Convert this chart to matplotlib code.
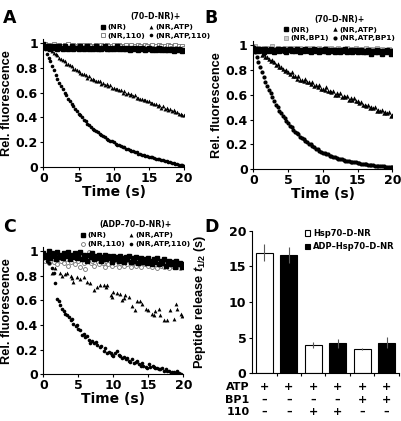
import numpy as np
import matplotlib
matplotlib.use("Agg")
import matplotlib.pyplot as plt

plt.rcParams['font.family'] = ['DejaVu Sans']
plt.rcParams['font.weight'] = 'bold'
plt.rcParams['axes.labelweight'] = 'bold'
plt.rcParams['axes.linewidth'] = 0.8
plt.rcParams['mathtext.fontset'] = 'custom'
plt.rcParams['mathtext.it'] = 'Liberation Sans:italic:bold'
plt.rcParams['mathtext.rm'] = 'Liberation Sans:bold'

# ---------------- data ----------------
# time grid of the stopped-flow traces (0.25 s steps)
t = np.linspace(0, 20, 81)

# panel A  (70-D-NR)+
A_NR = [0.99, 0.97, 0.96, 0.97, 0.95, 0.96, 0.97, 0.96,
        0.95, 0.97, 0.96, 0.95, 0.97, 0.96, 0.95, 0.96,
        0.97, 0.95, 0.96, 0.96, 0.95, 0.97, 0.96, 0.95,
        0.96, 0.97, 0.95, 0.96, 0.95, 0.96, 0.97, 0.95,
        0.96, 0.95, 0.96, 0.97, 0.95, 0.96, 0.95, 0.96,
        0.95, 0.96, 0.97, 0.95, 0.96, 0.95, 0.96, 0.95,
        0.96, 0.94, 0.95, 0.96, 0.95, 0.96, 0.94, 0.95,
        0.96, 0.95, 0.94, 0.95, 0.96, 0.95, 0.94, 0.95,
        0.94, 0.95, 0.96, 0.94, 0.95, 0.94, 0.95, 0.94,
        0.95, 0.94, 0.93, 0.95, 0.94, 0.95, 0.94, 0.93,
        0.94]
A_NR110 = [0.98, 0.99, 0.97, 0.98, 0.96, 0.97, 0.99, 0.97,
           0.96, 0.98, 0.97, 0.96, 0.98, 0.97, 0.99, 0.96,
           0.97, 0.98, 0.96, 0.97, 0.98, 0.96, 0.97, 0.98,
           0.97, 0.96, 0.98, 0.97, 0.96, 0.97, 0.98, 0.96,
           0.97, 0.98, 0.97, 0.96, 0.98, 0.97, 0.96, 0.97,
           0.98, 0.96, 0.97, 0.98, 0.97, 0.96, 0.97, 0.98,
           0.96, 0.97, 0.98, 0.96, 0.97, 0.96, 0.98, 0.97,
           0.96, 0.97, 0.98, 0.97, 0.96, 0.97, 0.98, 0.96,
           0.97, 0.96, 0.98, 0.97, 0.96, 0.97, 0.96, 0.98,
           0.97, 0.96, 0.97, 0.98, 0.96, 0.97, 0.96, 0.97,
           0.96]
A_ATP = [1.00, 0.98, 0.97, 0.95, 0.95, 0.93, 0.92, 0.91,
         0.90, 0.88, 0.87, 0.86, 0.85, 0.83, 0.83, 0.82,
         0.81, 0.79, 0.79, 0.78, 0.77, 0.76, 0.75, 0.75,
         0.74, 0.72, 0.73, 0.71, 0.71, 0.70, 0.69, 0.69,
         0.69, 0.67, 0.68, 0.66, 0.67, 0.65, 0.66, 0.64,
         0.64, 0.63, 0.63, 0.62, 0.62, 0.60, 0.61, 0.59,
         0.60, 0.58, 0.59, 0.57, 0.58, 0.56, 0.56, 0.55,
         0.55, 0.54, 0.54, 0.53, 0.53, 0.52, 0.52, 0.51,
         0.51, 0.49, 0.50, 0.48, 0.49, 0.47, 0.48, 0.46,
         0.47, 0.45, 0.46, 0.44, 0.44, 0.43, 0.43, 0.42,
         0.42]
A_ATP110 = [0.98, 0.95, 0.91, 0.88, 0.85, 0.81, 0.78, 0.74,
            0.71, 0.68, 0.65, 0.63, 0.60, 0.58, 0.55, 0.53,
            0.51, 0.49, 0.47, 0.45, 0.43, 0.42, 0.40, 0.38,
            0.37, 0.35, 0.34, 0.32, 0.31, 0.30, 0.29, 0.28,
            0.27, 0.26, 0.25, 0.24, 0.23, 0.22, 0.21, 0.21,
            0.20, 0.19, 0.18, 0.18, 0.17, 0.16, 0.16, 0.15,
            0.145, 0.14, 0.13, 0.13, 0.12, 0.12, 0.11, 0.11,
            0.10, 0.10, 0.09, 0.09, 0.085, 0.08, 0.08, 0.075,
            0.07, 0.07, 0.065, 0.06, 0.055, 0.05, 0.05, 0.045,
            0.04, 0.035, 0.035, 0.03, 0.025, 0.02, 0.02, 0.015,
            0.01]

# panel B  (70-D-NR)+ with BP1
B_NR = [0.98, 0.96, 0.97, 0.95, 0.97, 0.96, 0.94, 0.97,
        0.96, 0.95, 0.97, 0.96, 0.94, 0.96, 0.97, 0.95,
        0.96, 0.97, 0.95, 0.94, 0.96, 0.97, 0.95, 0.96,
        0.95, 0.97, 0.96, 0.94, 0.96, 0.95, 0.97, 0.96,
        0.95, 0.94, 0.96, 0.97, 0.95, 0.96, 0.94, 0.96,
        0.95, 0.97, 0.95, 0.94, 0.96, 0.95, 0.96, 0.94,
        0.96, 0.95, 0.94, 0.96, 0.95, 0.97, 0.94, 0.95,
        0.96, 0.94, 0.95, 0.96, 0.94, 0.95, 0.96, 0.94,
        0.95, 0.94, 0.96, 0.95, 0.93, 0.95, 0.94, 0.96,
        0.94, 0.95, 0.93, 0.95, 0.94, 0.96, 0.94, 0.93,
        0.95]
B_NRBP1 = [0.97, 0.99, 0.96, 0.98, 0.97, 0.95, 0.98, 0.96,
           0.98, 0.96, 0.97, 0.99, 0.95, 0.97, 0.98, 0.96,
           0.97, 0.95, 0.98, 0.97, 0.96, 0.98, 0.97, 0.95,
           0.98, 0.96, 0.97, 0.98, 0.96, 0.97, 0.95, 0.98,
           0.96, 0.97, 0.98, 0.95, 0.97, 0.96, 0.98, 0.97,
           0.95, 0.97, 0.98, 0.96, 0.97, 0.98, 0.95, 0.97,
           0.96, 0.98, 0.97, 0.95, 0.97, 0.96, 0.98, 0.96,
           0.97, 0.95, 0.97, 0.98, 0.96, 0.97, 0.95, 0.97,
           0.96, 0.98, 0.96, 0.97, 0.95, 0.97, 0.96, 0.98,
           0.96, 0.95, 0.97, 0.96, 0.94, 0.96, 0.97, 0.95,
           0.96]
B_ATP = [1.00, 0.97, 0.98, 0.95, 0.95, 0.92, 0.93, 0.90,
         0.90, 0.89, 0.87, 0.88, 0.86, 0.84, 0.85, 0.82,
         0.82, 0.81, 0.79, 0.80, 0.78, 0.77, 0.78, 0.75,
         0.75, 0.73, 0.75, 0.72, 0.72, 0.71, 0.73, 0.70,
         0.70, 0.69, 0.70, 0.67, 0.68, 0.66, 0.68, 0.65,
         0.65, 0.64, 0.66, 0.63, 0.63, 0.62, 0.63, 0.60,
         0.61, 0.60, 0.61, 0.58, 0.59, 0.58, 0.59, 0.56,
         0.57, 0.56, 0.57, 0.55, 0.55, 0.53, 0.54, 0.52,
         0.52, 0.51, 0.52, 0.49, 0.50, 0.49, 0.50, 0.47,
         0.48, 0.47, 0.48, 0.45, 0.46, 0.45, 0.46, 0.43,
         0.44]
B_ATPBP1 = [0.98, 0.94, 0.90, 0.86, 0.82, 0.78, 0.74, 0.70,
            0.67, 0.64, 0.61, 0.58, 0.55, 0.52, 0.50, 0.47,
            0.45, 0.43, 0.41, 0.39, 0.37, 0.35, 0.34, 0.32,
            0.30, 0.29, 0.28, 0.26, 0.25, 0.24, 0.23, 0.22,
            0.20, 0.20, 0.19, 0.18, 0.165, 0.16, 0.15, 0.14,
            0.135, 0.13, 0.12, 0.12, 0.11, 0.105, 0.10, 0.095,
            0.09, 0.085, 0.08, 0.08, 0.075, 0.07, 0.07, 0.065,
            0.06, 0.06, 0.055, 0.055, 0.05, 0.05, 0.045, 0.045,
            0.04, 0.04, 0.038, 0.035, 0.033, 0.032, 0.03, 0.03,
            0.027, 0.026, 0.025, 0.024, 0.022, 0.021, 0.02, 0.019,
            0.018]

# panel C  (ADP-70-D-NR)+
C_NR = [0.98, 0.95, 0.97, 1.00, 0.94, 0.98, 0.96, 0.93,
        0.99, 0.95, 0.97, 0.94, 0.98, 0.96, 0.99, 0.93,
        0.97, 0.95, 0.98, 0.94, 0.96, 0.99, 0.93, 0.97,
        0.95, 0.92, 0.97, 0.95, 0.98, 0.93, 0.96, 0.94,
        0.97, 0.92, 0.95, 0.97, 0.93, 0.96, 0.94, 0.91,
        0.96, 0.93, 0.95, 0.92, 0.96, 0.94, 0.91, 0.95,
        0.93, 0.96, 0.91, 0.94, 0.92, 0.95, 0.90, 0.93,
        0.94, 0.91, 0.93, 0.90, 0.94, 0.92, 0.89, 0.93,
        0.91, 0.94, 0.89, 0.92, 0.90, 0.93, 0.88, 0.91,
        0.92, 0.89, 0.91, 0.87, 0.92, 0.89, 0.90, 0.87,
        0.89]
C_NR110 = [0.95, 0.92, 0.96, 0.90, 0.94, 0.97, 0.91, 0.93,
           0.89, 0.95, 0.92, 0.96, 0.90, 0.93, 0.88, 0.94,
           0.91, 0.96, 0.89, 0.93, 0.92, 0.87, 0.95, 0.90,
           0.85, 0.93, 0.99, 0.90, 0.92, 0.88, 0.94, 0.91,
           0.89, 0.93, 0.90, 0.87, 0.92, 0.89, 0.94, 0.88,
           0.91, 0.89, 0.93, 0.87, 0.90, 0.92, 0.88, 0.91,
           0.89, 0.93, 0.87, 0.90, 0.91, 0.88, 0.92, 0.89,
           0.87, 0.91, 0.89, 0.92, 0.88, 0.90, 0.87, 0.91,
           0.89, 0.86, 0.91, 0.88, 0.90, 0.87, 0.89, 0.91,
           0.86, 0.89, 0.88, 0.90, 0.87, 0.89, 0.86, 0.88,
           0.87]
C_ATP_t = [0.3, 0.7, 1.2, 1.6, 2.4, 2.7, 3.1, 3.4, 3.9, 4.1, 4.3, 4.8,
           5.3, 5.8, 6.2, 6.7, 7.2, 7.7, 8.1, 8.6, 8.9, 9.1, 9.6, 9.8,
           10.0, 10.5, 11.0, 11.2, 11.5, 11.7, 12.2, 12.7, 13.1, 13.4,
           13.8, 14.1, 14.6, 15.0, 15.5, 15.8, 16.0, 16.5, 16.7, 17.2,
           17.7, 18.1, 18.6, 18.9, 19.1, 19.6, 19.8]
C_ATP = [0.95, 0.92, 0.82, 0.86, 0.82, 0.80, 0.81, 0.82, 0.80, 0.78, 0.75, 0.79,
         0.77, 0.79, 0.75, 0.74, 0.68, 0.71, 0.72, 0.72, 0.71, 0.72, 0.64, 0.63,
         0.67, 0.66, 0.65, 0.60, 0.62, 0.64, 0.63, 0.55, 0.52, 0.59,
         0.59, 0.57, 0.53, 0.52, 0.49, 0.48, 0.51, 0.53, 0.48, 0.44,
         0.44, 0.52, 0.45, 0.57, 0.53, 0.49, 0.47]
C_ATP110_t = [0.2, 0.5, 0.8, 1.2, 1.5, 1.6, 2.0, 2.2, 2.4, 2.7, 2.9,
              3.1, 3.4, 3.6, 3.9, 4.1, 4.3, 4.6, 4.8, 5.0, 5.3, 5.5, 5.8,
              6.0, 6.3, 6.5, 6.7, 7.0, 7.2, 7.5, 7.7, 8.1, 8.3, 8.6, 8.8,
              9.1, 9.4, 9.6, 9.8, 10.0, 10.3, 10.5, 10.8, 11.0, 11.3, 11.5, 11.8,
              12.0, 12.2, 12.4, 12.7, 12.9, 13.2, 13.4, 13.6, 13.9,
              14.1, 14.3, 14.6, 14.8, 15.1, 15.3, 15.6, 15.8, 16.0, 16.2, 16.5, 16.7,
              17.0, 17.2, 17.5, 17.7, 17.9, 18.2, 18.4, 18.6, 18.9, 19.1, 19.4, 19.6]
C_ATP110 = [0.95, 0.92, 0.90, 0.86, 0.82, 0.74, 0.61, 0.59, 0.56, 0.53, 0.51,
            0.49, 0.48, 0.46, 0.44, 0.45, 0.41, 0.39, 0.40, 0.37, 0.36, 0.32, 0.33,
            0.30, 0.31, 0.28, 0.25, 0.27, 0.25, 0.26, 0.24, 0.22, 0.23, 0.19, 0.21,
            0.17, 0.18, 0.17, 0.16, 0.15, 0.17, 0.19, 0.16, 0.15, 0.13, 0.14, 0.12,
            0.13, 0.11, 0.10, 0.12, 0.09, 0.10, 0.11, 0.08, 0.07,
            0.09, 0.07, 0.06, 0.05, 0.08, 0.06, 0.07, 0.06, 0.05, 0.05, 0.04, 0.04,
            0.05, 0.03, 0.04, 0.03, 0.03, 0.01, 0.02, 0.02, 0.01, 0.03, 0.01, 0.00]

# panel D  peptide release half-times
t_half = [16.9, 16.6, 4.0, 4.2, 3.4, 4.3]
t_half_err = [1.2, 1.15, 0.45, 0.6, 0.2, 0.75]
bar_fill = ['white', 'black', 'white', 'black', 'white', 'black']
row_labels = ['ATP', 'BP1', '110']
row_atp = ['+', '+', '+', '+', '+', '+']
row_bp1 = ['–', '–', '–', '–', '+', '+']
row_110 = ['–', '–', '+', '+', '–', '–']

yticks_rel = [0, 0.2, 0.4, 0.6, 0.8, 1]
yticklabels_rel = ['0', '0.2', '0.4', '0.6', '0.8', '1']

# ---------------- figure ----------------
fig = plt.figure(figsize=(4.02, 4.21), dpi=100)

label_font = dict(family='Liberation Sans', weight='bold', size=9.2)


def bold_ticks(ax):
    for lab in ax.get_xticklabels() + ax.get_yticklabels():
        lab.set_fontweight('bold')


def style_trace_axes(ax):
    ax.set_xlim(0, 20)
    ax.set_ylim(0, 1.03)
    ax.set_xticks([0, 5, 10, 15, 20])
    ax.set_yticks(yticks_rel)
    ax.set_yticklabels(yticklabels_rel)
    ax.spines['top'].set_visible(False)
    ax.spines['right'].set_visible(False)
    ax.tick_params(direction='out', length=2.5, width=0.8, labelsize=9, pad=1.5)
    ax.tick_params(axis='x', pad=0.8)
    bold_ticks(ax)
    ax.set_xlabel('Time (s)', fontsize=10, fontweight='bold', labelpad=0.2)
    ax.set_ylabel('Rel. fluorescence', **label_font)
    ax.yaxis.set_label_coords(-0.215, 0.5)


def trace_legend(ax, title, x_anchor):
    leg = ax.legend(ncol=2, title=title, loc='lower center',
                    bbox_to_anchor=(x_anchor, 0.97), frameon=False,
                    fontsize=5.4, title_fontsize=5.6, handlelength=0.5,
                    handletextpad=0.35, columnspacing=0.5, labelspacing=0.35,
                    borderpad=0, markerscale=1.0)
    leg.get_title().set_fontweight('bold')
    for txt in leg.get_texts():
        txt.set_fontweight('bold')


# Panel A
axA = fig.add_axes([0.108, 0.6026, 0.350, 0.3048])
axA.plot(t, A_NR, 's', ms=2.4, color='black', label='(NR)', zorder=3)
axA.plot(t, A_NR110, 's', ms=2.6, mfc='white', mec='0.45', mew=0.6, label='(NR,110)', zorder=2)
axA.plot(t, A_ATP, '^', ms=2.8, color='black', mew=0, label='(NR,ATP)')
axA.plot(t, A_ATP110, 'o', ms=2.6, color='black', mew=0, label='(NR,ATP,110)')
style_trace_axes(axA)
trace_legend(axA, '(70–D-NR)+', 0.8)

# Panel B
axB = fig.add_axes([0.630, 0.5979, 0.346, 0.304])
axB.plot(t, B_NR, 's', ms=2.6, color='black', label='(NR)', zorder=3)
axB.plot(t, B_NRBP1, 's', ms=3.0, mfc='0.8', mec='0.55', mew=0.5, label='(NR,BP1)', zorder=2)
axB.plot(t, B_ATP, '^', ms=3.2, color='black', mew=0, label='(NR,ATP)')
axB.plot(t, B_ATPBP1, 'o', ms=3.0, color='black', mew=0, label='(NR,ATP,BP1)')
style_trace_axes(axB)
trace_legend(axB, '(70–D-NR)+', 0.62)

# Panel C
axC = fig.add_axes([0.108, 0.111, 0.348, 0.302])
axC.plot(t, C_NR, 's', ms=2.6, color='black', label='(NR)', zorder=3)
axC.plot(t, C_NR110, 'o', ms=2.8, mfc='white', mec='0.45', mew=0.6, label='(NR,110)', zorder=2)
axC.plot(C_ATP_t, C_ATP, '^', ms=2.8, color='black', mew=0, label='(NR,ATP)')
axC.plot(C_ATP110_t, C_ATP110, 'o', ms=2.6, color='black', mew=0, label='(NR,ATP,110)')
style_trace_axes(axC)
trace_legend(axC, '(ADP–70–D-NR)+', 0.66)

# Panel D
axD = fig.add_axes([0.627, 0.1133, 0.365, 0.3387])
xpos = np.arange(len(t_half))
bars = axD.bar(xpos, t_half, width=0.7, color=bar_fill, edgecolor='black', linewidth=0.8)
axD.errorbar(xpos, t_half, yerr=t_half_err, fmt='none', ecolor='0.35',
             elinewidth=0.8, capsize=0, zorder=3)
axD.set_xlim(-0.5, 5.5)
axD.set_ylim(0, 20)
axD.set_yticks([0, 5, 10, 15, 20])
axD.set_xticks(xpos + 0.5)
axD.set_xticklabels([])
axD.spines['top'].set_visible(False)
axD.spines['right'].set_visible(False)
axD.tick_params(direction='out', length=2.5, width=0.8, labelsize=9, pad=1.5)
bold_ticks(axD)
axD.set_ylabel(r'Peptide release $\mathit{t}_{\mathrm{1/2}}$ (s)', **label_font)
axD.yaxis.set_label_coords(-0.30, 0.5)
legD = axD.legend([bars[0], bars[1]], ['Hsp70–D-NR', 'ADP–Hsp70–D-NR'],
                  loc='upper left', bbox_to_anchor=(0.33, 1.04), frameon=False,
                  fontsize=6.0, handlelength=0.7, handleheight=0.7,
                  handletextpad=0.3, labelspacing=0.5, borderpad=0)
for txt in legD.get_texts():
    txt.set_fontweight('bold')

trans = axD.get_xaxis_transform()
for row_y, label, marks in zip([-0.095, -0.185, -0.272], row_labels,
                               [row_atp, row_bp1, row_110]):
    axD.text(-0.6, row_y, label, transform=trans, ha='right', va='center',
             fontsize=8, fontweight='bold')
    for xi, m in zip(xpos, marks):
        axD.text(xi, row_y, m, transform=trans, ha='center', va='center',
                 fontsize=8, fontweight='bold')

# panel letters
for x, y, letter in [(0.008, 0.978, 'A'), (0.508, 0.978, 'B'),
                     (0.008, 0.483, 'C'), (0.508, 0.483, 'D')]:
    fig.text(x, y, letter, fontsize=12.5, fontweight='bold', va='top', ha='left')

fig.savefig('out.png', dpi=100)
